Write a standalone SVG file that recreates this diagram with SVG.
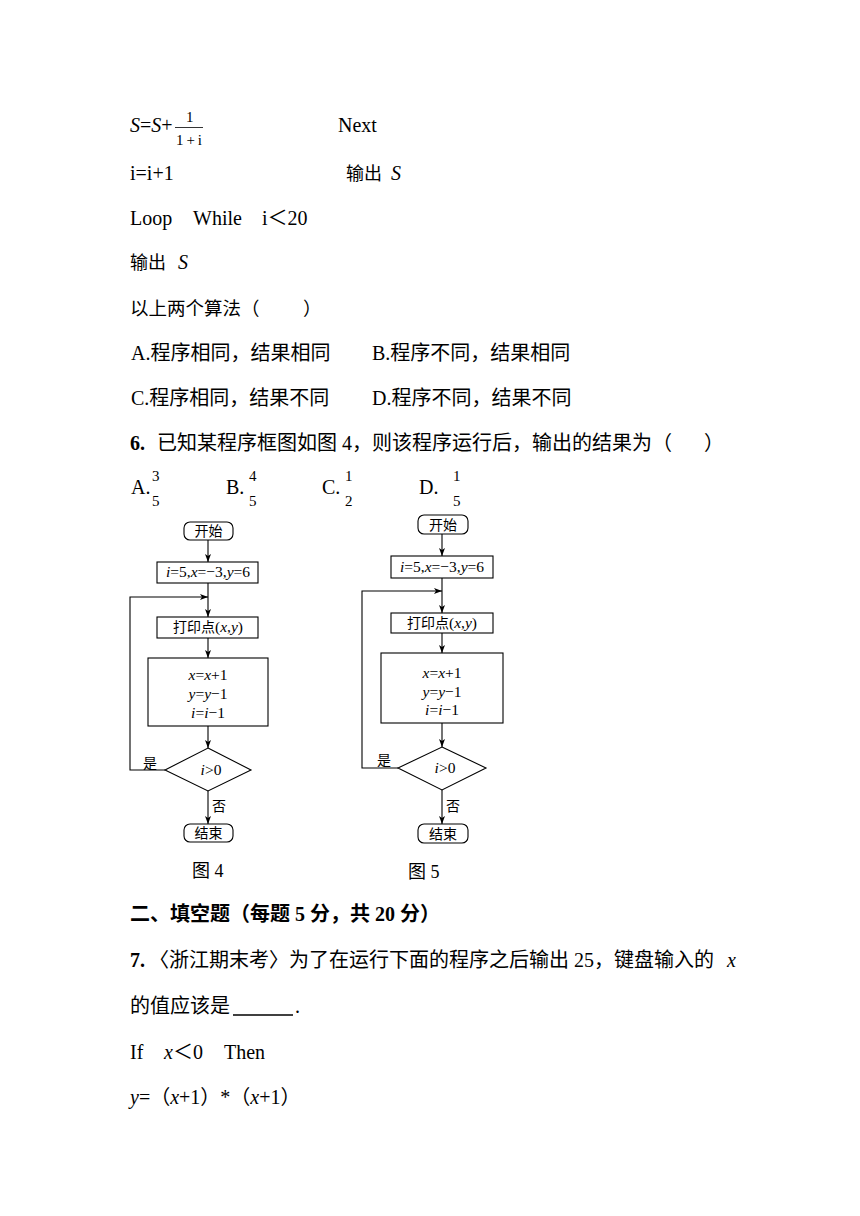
<svg xmlns="http://www.w3.org/2000/svg" width="860" height="1216" viewBox="0 0 860 1216">
<style>
.t{font-family:"Liberation Serif","Noto Sans CJK SC",serif;font-size:20px;fill:#000}
.c{font-family:"Noto Sans CJK SC","Liberation Serif",sans-serif}
.i{font-style:italic}
.b{font-weight:bold}
.f{font-size:15px}
.fc{font-family:"Liberation Serif","Noto Sans CJK SC",serif;font-size:15.5px;fill:#000;text-anchor:middle}
.lbl{font-family:"Noto Sans CJK SC",sans-serif;font-size:14px;fill:#000}
.box{fill:#fff;stroke:#000;stroke-width:1.1}
.ln{fill:none;stroke:#000;stroke-width:1.1}
</style>
<defs>
<marker id="ah" viewBox="0 0 8 6" refX="8" refY="3" markerWidth="8" markerHeight="6" markerUnits="userSpaceOnUse" orient="auto">
<path d="M0,0 L8,3 L0,6 L2,3 z" fill="#000"/>
</marker>
</defs>
<rect width="860" height="1216" fill="#fff"/>

<g id="text-top">
<text class="t" x="130" y="132"><tspan class="i">S</tspan>=<tspan class="i">S</tspan>+</text>
<text class="t f" x="186" y="122">1</text>
<line x1="175" y1="127.5" x2="203" y2="127.5" stroke="#000" stroke-width="0.8"/>
<text class="t f" x="176" y="145" textLength="26">1 + i</text>
<text class="t" x="338" y="132">Next</text>
<text class="t" x="130" y="180">i=i+1</text>
<text class="t" x="346" y="180" style="font-size:18px">输出</text>
<text class="t i" x="391" y="180">S</text>
<text class="t" x="130" y="225">Loop</text>
<text class="t" x="193" y="225">While</text>
<text class="t" x="262" y="225">i＜20</text>
<text class="t" x="130" y="269" style="font-size:18px">输出</text>
<text class="t i" x="178" y="269">S</text>
<text class="t" x="130" y="315" style="font-size:18.5px">以上两个算法（</text>
<text class="t" x="303" y="315" style="font-size:18.5px">）</text>
<text class="t" x="131" y="360">A.程序相同，结果相同</text>
<text class="t" x="372" y="360">B.程序不同，结果相同</text>
<text class="t" x="131" y="405">C.程序相同，结果不同</text>
<text class="t" x="372" y="405">D.程序不同，结果不同</text>
<text class="t b" x="130" y="450">6.</text>
<text class="t" x="157" y="450">已知某程序框图如图 4，则该程序运行后，输出的结果为（</text>
<text class="t" x="704" y="450">）</text>
<text class="t" x="131" y="494">A.</text>
<text class="t f" x="152" y="481">3</text>
<text class="t f" x="152" y="506">5</text>
<text class="t" x="226" y="494">B.</text>
<text class="t f" x="249" y="481">4</text>
<text class="t f" x="249" y="506">5</text>
<text class="t" x="322" y="494">C.</text>
<text class="t f" x="345" y="481">1</text>
<text class="t f" x="345" y="506">2</text>
<text class="t" x="419" y="494">D.</text>
<text class="t f" x="453" y="481">1</text>
<text class="t f" x="453" y="506">5</text>
</g>

<g id="fig4">
<g id="f4-start"><rect class="box" x="184" y="522" width="49" height="18" rx="6"/><text class="fc c" x="208.5" y="536" style="font-size:14px">开始</text></g>
<g id="f4-init"><rect class="box" x="157" y="562" width="101" height="21"/><text class="fc" x="208" y="577"><tspan class="i">i</tspan>=5,<tspan class="i">x</tspan>=−3,<tspan class="i">y</tspan>=6</text></g>
<g id="f4-print"><rect class="box" x="157" y="617" width="101" height="21"/><text class="fc" x="208" y="632"><tspan class="c" style="font-size:14px">打印点</tspan>(<tspan class="i">x</tspan>,<tspan class="i">y</tspan>)</text></g>
<g id="f4-proc"><rect class="box" x="148" y="658" width="120" height="68"/>
<text class="fc" x="208" y="680"><tspan class="i">x</tspan>=<tspan class="i">x</tspan>+1</text>
<text class="fc" x="208" y="699"><tspan class="i">y</tspan>=<tspan class="i">y</tspan>−1</text>
<text class="fc" x="208" y="718"><tspan class="i">i</tspan>=<tspan class="i">i</tspan>−1</text></g>
<g id="f4-dec"><polygon class="box" points="208,748 251,770 208,791 165,770"/><text class="fc" x="211" y="775"><tspan class="i">i</tspan>&gt;0</text></g>
<g id="f4-end"><rect class="box" x="184" y="824" width="49" height="18" rx="6"/><text class="fc c" x="208.5" y="838" style="font-size:14px">结束</text></g>
<g id="f4-conn">
<line class="ln" x1="208" y1="540" x2="208" y2="562" marker-end="url(#ah)"/>
<line class="ln" x1="208" y1="583" x2="208" y2="617" marker-end="url(#ah)"/>
<polyline class="ln" points="165,770 130,770 130,597 208,597" marker-end="url(#ah)"/>
<line class="ln" x1="208" y1="638" x2="208" y2="658" marker-end="url(#ah)"/>
<line class="ln" x1="208" y1="726" x2="208" y2="748" marker-end="url(#ah)"/>
<line class="ln" x1="208" y1="791" x2="208" y2="824" marker-end="url(#ah)"/>
<text class="lbl" x="143" y="768">是</text>
<text class="lbl" x="212" y="811">否</text>
</g>
<text class="t" x="192" y="877" style="font-size:18px">图 4</text>
</g>

<g id="fig5">
<g id="f5-start"><rect class="box" x="418" y="515" width="50" height="19" rx="6"/><text class="fc c" x="443" y="529.5" style="font-size:14px">开始</text></g>
<g id="f5-init"><rect class="box" x="391" y="556" width="102" height="22"/><text class="fc" x="442" y="572"><tspan class="i">i</tspan>=5,<tspan class="i">x</tspan>=−3,<tspan class="i">y</tspan>=6</text></g>
<g id="f5-print"><rect class="box" x="391" y="613" width="102" height="20"/><text class="fc" x="442" y="628"><tspan class="c" style="font-size:14px">打印点</tspan>(<tspan class="i">x</tspan>,<tspan class="i">y</tspan>)</text></g>
<g id="f5-proc"><rect class="box" x="381" y="653" width="122" height="70"/>
<text class="fc" x="442" y="678"><tspan class="i">x</tspan>=<tspan class="i">x</tspan>+1</text>
<text class="fc" x="442" y="697"><tspan class="i">y</tspan>=<tspan class="i">y</tspan>−1</text>
<text class="fc" x="442" y="715"><tspan class="i">i</tspan>=<tspan class="i">i</tspan>−1</text></g>
<g id="f5-dec"><polygon class="box" points="442,747 486,768 442,790 398,768"/><text class="fc" x="445" y="773"><tspan class="i">i</tspan>&gt;0</text></g>
<g id="f5-end"><rect class="box" x="418" y="824" width="50" height="19" rx="6"/><text class="fc c" x="443" y="838.5" style="font-size:14px">结束</text></g>
<g id="f5-conn">
<line class="ln" x1="442" y1="534" x2="442" y2="556" marker-end="url(#ah)"/>
<line class="ln" x1="442" y1="578" x2="442" y2="613" marker-end="url(#ah)"/>
<polyline class="ln" points="398,768 362,768 362,591 442,591" marker-end="url(#ah)"/>
<line class="ln" x1="442" y1="633" x2="442" y2="653" marker-end="url(#ah)"/>
<line class="ln" x1="442" y1="723" x2="442" y2="747" marker-end="url(#ah)"/>
<line class="ln" x1="442" y1="790" x2="442" y2="824" marker-end="url(#ah)"/>
<text class="lbl" x="377" y="765">是</text>
<text class="lbl" x="446" y="811">否</text>
</g>
<text class="t" x="408" y="878" style="font-size:18px">图 5</text>
</g>

<g id="text-bottom">
<text class="t b" x="130" y="921">二、填空题（每题 5 分，共 20 分）</text>
<text class="t b" x="130" y="967">7.</text>
<text class="t" x="149" y="967">〈浙江期末考〉为了在运行下面的程序之后输出 25，键盘输入的</text>
<text class="t i" x="727" y="967">x</text>
<text class="t" x="130" y="1013">的值应该是</text>
<line x1="233" y1="1015" x2="293" y2="1015" stroke="#000" stroke-width="1.5"/>
<text class="t" x="295" y="1013">.</text>
<text class="t" x="130" y="1059">If</text>
<text class="t i" x="164" y="1059">x</text>
<text class="t" x="173" y="1059">＜0</text>
<text class="t" x="224" y="1059">Then</text>
<text class="t" x="130" y="1104"><tspan class="i">y</tspan>=（<tspan class="i">x</tspan>+1）*（<tspan class="i">x</tspan>+1）</text>
</g>
</svg>
